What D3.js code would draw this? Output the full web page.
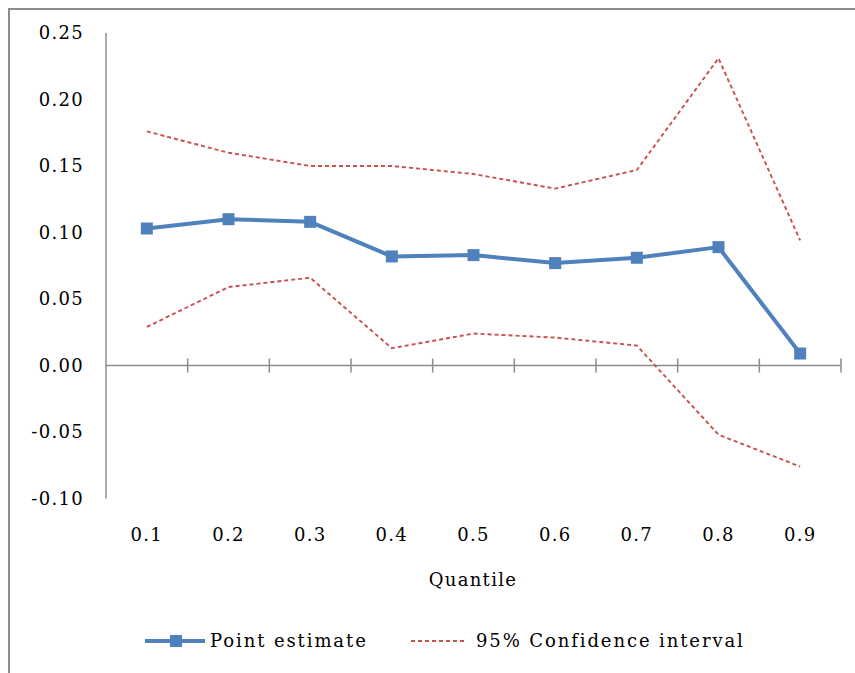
<!DOCTYPE html>
<html lang="en">
<head>
    <meta charset="UTF-8">
    <title>Quantile estimates</title>
    <style>
        body { margin: 0; background: #fff; }
        text { font-family: "DejaVu Serif", serif; font-size: 18px; fill: #000; letter-spacing: 1.3px; }
        text.leg { font-size: 18px; letter-spacing: 1.9px; }
    </style>
</head>
<body>
<script src='https://d3js.org/d3.v7.min.js' type='text/javascript'></script>
<script>
    var quantiles = ["0.1", "0.2", "0.3", "0.4", "0.5", "0.6", "0.7", "0.8", "0.9"];
    var pointEstimate = [0.103, 0.110, 0.108, 0.082, 0.083, 0.077, 0.081, 0.089, 0.009];
    var upperCI = [0.176, 0.160, 0.150, 0.150, 0.144, 0.133, 0.147, 0.231, 0.094];
    var lowerCI = [0.029, 0.059, 0.066, 0.013, 0.024, 0.021, 0.015, -0.052, -0.076];
    var yTicks = ["0.25", "0.20", "0.15", "0.10", "0.05", "0.00", "-0.05", "-0.10"];

    const width = 855;
    const height = 673;

    const svg = d3.select("body")
        .append("svg")
        .attr('width', width)
        .attr('height', height);

    // outer frame (clipped at right and bottom like the original)
    svg.append("rect")
        .attr("x", 9).attr("y", 9)
        .attr("width", 900).attr("height", 700)
        .attr("fill", "none")
        .attr("stroke", "#8c8c8c")
        .attr("stroke-width", 2);

    var x = d3.scaleBand().domain(quantiles).range([106, 841]);
    var y = d3.scaleLinear().domain([-0.10, 0.25]).range([498.5, 33]);

    // y axis line + labels
    svg.append("line")
        .attr("x1", 106).attr("x2", 106)
        .attr("y1", y(0.25)).attr("y2", y(-0.10))
        .attr("stroke", "#8c8c8c").attr("stroke-width", 1.5);
    svg.selectAll(".ylab")
        .data(yTicks)
        .enter()
        .append("text")
        .attr("class", "ylab")
        .attr("x", 84)
        .attr("y", function (d) { return y(+d); })
        .attr("dy", "0.35em")
        .attr("text-anchor", "end")
        .text(function (d) { return d; });

    // x axis at zero with crossing ticks between categories
    svg.append("line")
        .attr("x1", 106).attr("x2", 841)
        .attr("y1", y(0)).attr("y2", y(0))
        .attr("stroke", "#8c8c8c").attr("stroke-width", 1.5);
    var bounds = quantiles.map(function (q) { return x(q) + x.bandwidth(); });
    svg.selectAll(".xtick")
        .data(bounds)
        .enter()
        .append("line")
        .attr("x1", function (d) { return d; })
        .attr("x2", function (d) { return d; })
        .attr("y1", y(0) - 7).attr("y2", y(0) + 7)
        .attr("stroke", "#8c8c8c").attr("stroke-width", 1.5);
    svg.selectAll(".xlab")
        .data(quantiles)
        .enter()
        .append("text")
        .attr("x", function (d) { return x(d) + x.bandwidth() / 2; })
        .attr("y", 535)
        .attr("dy", "0.35em")
        .attr("text-anchor", "middle")
        .text(function (d) { return d; });

    svg.append("text")
        .attr("x", 473).attr("y", 580)
        .attr("dy", "0.35em")
        .attr("text-anchor", "middle")
        .text("Quantile");

    var cx = function (d, i) { return x(quantiles[i]) + x.bandwidth() / 2; };
    var line = d3.line().x(cx).y(function (d) { return y(d); });

    // confidence bounds
    [upperCI, lowerCI].forEach(function (s) {
        svg.append("path")
            .attr("d", line(s))
            .attr("fill", "none")
            .attr("stroke", "#c9504d")
            .attr("stroke-width", 1.9)
            .attr("stroke-dasharray", "4,3");
    });

    // point estimate
    svg.append("path")
        .attr("d", line(pointEstimate))
        .attr("fill", "none")
        .attr("stroke", "#4f81bd")
        .attr("stroke-width", 4)
        .attr("stroke-linejoin", "round");
    svg.selectAll(".mk")
        .data(pointEstimate)
        .enter()
        .append("rect")
        .attr("x", function (d, i) { return cx(d, i) - 6; })
        .attr("y", function (d) { return y(d) - 6; })
        .attr("width", 12).attr("height", 12)
        .attr("fill", "#4f81bd");

    // legend
    var ly = 641;
    svg.append("line")
        .attr("x1", 145).attr("x2", 205)
        .attr("y1", ly).attr("y2", ly)
        .attr("stroke", "#4f81bd").attr("stroke-width", 4);
    svg.append("rect")
        .attr("x", 170).attr("y", ly - 6)
        .attr("width", 12).attr("height", 12)
        .attr("fill", "#4f81bd");
    svg.append("text")
        .attr("class", "leg")
        .attr("x", 210).attr("y", ly).attr("dy", "0.35em")
        .text("Point estimate");
    svg.append("line")
        .attr("x1", 411).attr("x2", 465)
        .attr("y1", ly).attr("y2", ly)
        .attr("stroke", "#c9504d").attr("stroke-width", 1.9)
        .attr("stroke-dasharray", "4,3");
    svg.append("text")
        .attr("class", "leg")
        .attr("x", 476).attr("y", ly).attr("dy", "0.35em")
        .text("95% Confidence interval");
</script>
</body>
</html>
